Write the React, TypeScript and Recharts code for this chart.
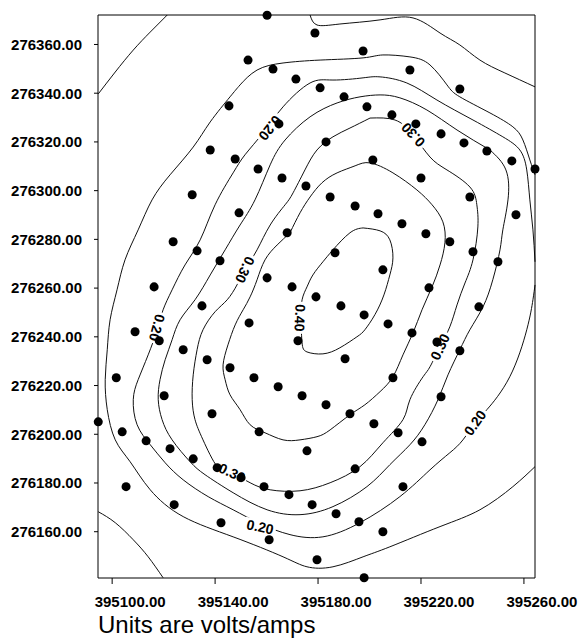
import React from 'react';
import { ComposedChart, Line, Scatter, XAxis, YAxis } from 'recharts';

type Pt = [number, number];

// axis ticks (easting / northing)
const eastTicks = [395100, 395120, 395140, 395160, 395180, 395200, 395220, 395240, 395260];
const northTicks = [276160, 276180, 276200, 276220, 276240, 276260, 276280, 276300, 276320, 276340, 276360];
const eastDomain = [395094.5, 395264.3];
const northDomain = [276141.0, 276372.1];

// measurement stations
const stations: Pt[] = [
  [395160.2, 276372.0],
  [395152.8, 276353.6], [395162.5, 276349.9], [395171.4, 276345.8], [395180.8, 276342.2], [395190.1, 276338.5],
  [395199.0, 276334.4], [395208.7, 276331.1], [395218.0, 276327.4], [395227.8, 276323.3], [395236.7, 276319.6],
  [395245.6, 276316.3], [395255.3, 276312.2], [395264.3, 276308.9],
  [395178.8, 276364.7], [395197.5, 276357.3], [395215.7, 276349.5], [395235.1, 276341.7],
  [395145.4, 276334.8], [395164.8, 276327.4], [395183.1, 276320.0], [395201.3, 276312.6], [395220.0, 276305.2],
  [395239.0, 276297.4], [395256.9, 276290.1],
  [395138.1, 276316.7], [395147.8, 276313.0], [395156.7, 276308.9], [395166.0, 276305.2], [395175.3, 276301.9],
  [395184.7, 276297.4], [395194.4, 276293.7], [395203.3, 276290.5], [395212.6, 276286.4], [395221.9, 276282.3],
  [395231.2, 276279.0], [395240.2, 276274.9], [395249.9, 276270.8],
  [395131.1, 276298.3], [395149.3, 276290.9], [395168.0, 276282.7], [395186.6, 276274.5], [395205.2, 276267.5],
  [395223.1, 276260.1], [395242.5, 276252.3],
  [395123.7, 276279.0], [395133.0, 276275.3], [395141.9, 276271.2], [395160.2, 276264.2], [395169.9, 276260.5],
  [395179.2, 276256.4], [395188.9, 276252.7], [395197.9, 276249.0], [395207.2, 276245.3], [395216.5, 276241.6],
  [395226.2, 276237.9], [395235.1, 276234.3],
  [395116.3, 276260.5], [395134.9, 276252.7], [395153.2, 276245.7], [395172.2, 276238.4], [395190.5, 276231.0],
  [395209.1, 276223.2], [395227.8, 276215.4],
  [395108.9, 276242.1], [395118.3, 276238.4], [395127.6, 276234.7], [395136.9, 276230.6], [395145.8, 276227.3],
  [395155.1, 276223.2], [395164.5, 276219.5], [395173.8, 276215.8], [395183.1, 276212.1], [395192.4, 276208.4],
  [395201.7, 276204.3], [395211.1, 276200.6], [395220.4, 276196.9],
  [395101.6, 276223.2], [395120.2, 276215.8], [395138.8, 276208.4], [395157.1, 276201.0], [395175.7, 276193.2],
  [395194.4, 276185.8], [395213.0, 276178.5],
  [395094.6, 276205.1], [395103.9, 276201.0], [395113.2, 276197.3], [395122.5, 276194.1], [395131.5, 276189.9],
  [395140.8, 276186.3], [395150.1, 276182.2], [395159.0, 276178.5], [395168.7, 276175.2], [395177.7, 276171.1],
  [395187.0, 276167.4], [395195.9, 276164.1], [395205.2, 276160.0],
  [395105.4, 276178.5], [395124.1, 276171.1], [395142.3, 276163.7], [395161.0, 276156.7], [395179.6, 276148.5],
  [395197.9, 276141.1],
];

// contour lines, volts/amps
const c010TopLeft: Pt[] = [
  [395094.6, 276339.7], [395101.2, 276348.7], [395108.2, 276357.7], [395114.8, 276365.1], [395121.4, 276372.1],
];
const c010Top: Pt[] = [
  [395176.9, 276372.1], [395179.6, 276368.0], [395188.5, 276368.4], [395204.1, 276370.1], [395216.9, 276370.9],
  [395227.4, 276364.7], [395235.1, 276359.8], [395242.9, 276353.6], [395252.6, 276348.3], [395264.3, 276342.6],
];
const c010BottomLeft: Pt[] = [
  [395094.6, 276168.2], [395101.2, 276163.7], [395108.2, 276156.7], [395114.0, 276149.7], [395119.8, 276141.1],
];
const c015: Pt[] = [
  [395264.3, 276306.5], [395262.3, 276312.6], [395259.6, 276320.8], [395255.7, 276326.2], [395246.8, 276331.9],
  [395235.1, 276338.5], [395230.1, 276343.4], [395223.5, 276351.6], [395215.7, 276354.9], [395205.2, 276355.7],
  [395197.5, 276354.5], [395180.8, 276353.6], [395166.4, 276352.4], [395156.3, 276349.5], [395149.7, 276343.4],
  [395145.8, 276338.5], [395138.1, 276328.2], [395131.5, 276317.9], [395122.5, 276306.5], [395115.5, 276296.2],
  [395110.1, 276283.9], [395105.0, 276271.6], [395101.9, 276259.3], [395099.2, 276247.0], [395098.1, 276234.7],
  [395097.3, 276222.4], [395098.1, 276210.1], [395101.2, 276197.7], [395107.0, 276188.7], [395114.8, 276177.2],
  [395127.6, 276166.2], [395147.0, 276157.9], [395166.4, 276149.7], [395175.7, 276145.6], [395185.8, 276145.6],
  [395197.5, 276149.7], [395207.9, 276153.8], [395227.4, 276162.1], [395242.9, 276169.0], [395255.7, 276178.5],
  [395264.3, 276186.7],
];
const c020: Pt[] = [
  [395264.3, 276270.8], [395263.5, 276283.9], [395262.3, 276296.2], [395261.1, 276308.5], [395258.4, 276316.7],
  [395251.8, 276322.1], [395240.2, 276329.0], [395226.2, 276337.2], [395214.5, 276344.2], [395204.1, 276346.7],
  [395197.5, 276346.3], [395185.8, 276345.4], [395176.9, 276344.2], [395166.4, 276334.4], [395158.6, 276323.7],
  [395151.6, 276314.7], [395147.0, 276307.3], [395140.0, 276294.2], [395134.2, 276279.8], [395128.3, 276269.5],
  [395123.3, 276259.3], [395119.8, 276251.1], [395117.5, 276242.9], [395114.0, 276232.6], [395110.1, 276222.4],
  [395108.2, 276214.2], [395109.7, 276203.9], [395114.8, 276195.7], [395120.6, 276188.3], [395127.6, 276181.3],
  [395137.3, 276174.4], [395147.0, 276169.0], [395157.5, 276163.3], [395169.1, 276158.8], [395181.9, 276157.9],
  [395196.3, 276163.7], [395211.8, 276174.4], [395223.5, 276185.4], [395231.2, 276192.4], [395236.3, 276197.7],
  [395241.0, 276204.7], [395245.6, 276210.1], [395254.5, 276223.6], [395261.1, 276242.9], [395263.5, 276255.2],
  [395264.3, 276261.3],
];
const c025: Pt[] = [
  [395246.8, 276316.7], [395253.0, 276308.5], [395253.8, 276296.2], [395251.8, 276283.9], [395250.7, 276275.7],
  [395247.9, 276263.4], [395244.1, 276252.3], [395239.0, 276242.9], [395235.1, 276234.7], [395230.5, 276224.4],
  [395226.6, 276214.2], [395221.5, 276203.9], [395215.7, 276195.7], [395207.9, 276187.5], [395199.0, 276178.5],
  [395185.8, 276170.3], [395173.0, 276167.0], [395160.2, 276169.0], [395147.0, 276176.0], [395136.1, 276183.4],
  [395130.3, 276188.7], [395123.3, 276197.7], [395119.4, 276206.0], [395117.9, 276214.2], [395118.6, 276222.4],
  [395120.6, 276230.6], [395123.3, 276238.8], [395126.4, 276247.0], [395132.2, 276255.2], [395138.1, 276265.4],
  [395143.9, 276275.7], [395149.7, 276285.9], [395155.5, 276296.2], [395161.4, 276310.6], [395167.2, 276320.8],
  [395176.9, 276330.3], [395187.4, 276336.0], [395196.3, 276338.5], [395204.1, 276339.3], [395211.8, 276338.1],
  [395222.3, 276333.1], [395234.0, 276324.9], [395246.8, 276316.7],
];
const c030: Pt[] = [
  [395200.2, 276329.8], [395209.9, 276329.0], [395216.9, 276322.9], [395223.5, 276313.8], [395230.1, 276308.5],
  [395239.0, 276301.5], [395241.7, 276294.2], [395242.1, 276285.1], [395240.2, 276271.6], [395237.1, 276262.1],
  [395234.0, 276253.1], [395231.2, 276244.1], [395227.4, 276235.9], [395223.5, 276227.7], [395220.8, 276223.6],
  [395215.7, 276214.2], [395213.0, 276206.0], [395205.2, 276196.5], [395196.3, 276186.7], [395184.7, 276180.1],
  [395173.0, 276176.8], [395161.4, 276177.2], [395153.6, 276180.1], [395145.8, 276184.2], [395140.8, 276186.7],
  [395135.3, 276197.7], [395132.2, 276206.0], [395131.1, 276214.2], [395131.5, 276224.4], [395133.0, 276234.7],
  [395135.3, 276242.9], [395140.0, 276250.3], [395144.7, 276255.2], [395148.5, 276261.3], [395151.6, 276267.5],
  [395156.3, 276275.7], [395161.4, 276285.9], [395167.2, 276294.2], [395170.3, 276299.1], [395174.9, 276308.5],
  [395179.6, 276316.7], [395185.8, 276322.1], [395192.4, 276325.7], [395200.2, 276329.8],
];
const c035: Pt[] = [
  [395169.1, 276282.7], [395173.0, 276290.9], [395176.9, 276297.4], [395181.5, 276303.2], [395187.4, 276307.3],
  [395194.4, 276310.2], [395200.2, 276311.4], [395209.1, 276307.3], [395218.4, 276300.3], [395224.3, 276294.2],
  [395228.5, 276287.2], [395229.3, 276278.6], [395227.4, 276269.5], [395224.3, 276260.5], [395220.4, 276251.1],
  [395216.9, 276241.6], [395213.0, 276232.6], [395209.1, 276223.6], [395204.1, 276217.5], [395198.2, 276212.1],
  [395192.4, 276208.0], [395184.7, 276201.8], [395179.6, 276199.0], [395173.0, 276197.7], [395166.4, 276197.7],
  [395159.4, 276200.6], [395153.6, 276203.9], [395149.7, 276210.1], [395145.8, 276216.2], [395143.9, 276222.4],
  [395143.1, 276228.5], [395145.0, 276236.7], [395147.8, 276244.9], [395150.9, 276251.1], [395153.6, 276256.4],
  [395156.3, 276263.4], [395159.4, 276271.6], [395164.1, 276277.7], [395169.1, 276282.7],
];
const c040: Pt[] = [
  [395197.5, 276284.7], [395204.1, 276283.5], [395207.9, 276279.8], [395209.1, 276272.4], [395207.9, 276265.4],
  [395205.6, 276257.2], [395202.1, 276249.1], [395198.2, 276242.9], [395195.1, 276240.0], [395188.5, 276235.5],
  [395181.9, 276233.0], [395175.7, 276233.8], [395173.8, 276237.5], [395173.4, 276247.0], [395173.8, 276255.2],
  [395175.7, 276260.5], [395178.0, 276265.4], [395181.9, 276270.8], [395185.8, 276275.7], [395192.4, 276282.7],
  [395197.5, 276284.7],
];

const contourLines: Pt[][] = [c010TopLeft, c010Top, c010BottomLeft, c015, c020, c025, c030, c035, c040];

const contourLabels = [
  { x: 395161.4, y: 276325.7, text: '0.20', angle: 128 },
  { x: 395216.9, y: 276322.9, text: '0.30', angle: -133 },
  { x: 395151.6, y: 276267.5, text: '0.30', angle: 115 },
  { x: 395117.5, y: 276243.7, text: '0.20', angle: 105 },
  { x: 395173.0, y: 276247.8, text: '0.40', angle: 92 },
  { x: 395227.4, y: 276235.9, text: '0.30', angle: -65 },
  { x: 395241.0, y: 276204.7, text: '0.20', angle: -55 },
  { x: 395146.6, y: 276184.2, text: '0.30', angle: 25 },
  { x: 395157.5, y: 276162.0, text: '0.20', angle: 12 },
];

const FONT = '"Liberation Sans", Arial, sans-serif';

const toXY = (pts: Pt[]) => pts.map(([x, y]) => ({ x, y }));

const EastTick = (props: any) => {
  const { x, y, payload } = props;
  if ((payload.value - 395100) % 40 !== 0) return <g />;
  return (
    <text x={x + 18} y={y} dy="0.71em" textAnchor="middle" fill="#000" fontSize={15} fontWeight={700} fontFamily={FONT}>
      {payload.value.toFixed(2)}
    </text>
  );
};

const ContourLabel = (props: any) => {
  const { cx, cy, payload } = props;
  return (
    <g transform={`translate(${cx},${cy}) rotate(${payload.angle})`}>
      <rect x={-16} y={-7} width={32} height={14} fill="#fff" />
      <text x={0} y={0} dy="0.36em" textAnchor="middle" fontSize={14} fontWeight={700} fontFamily={FONT} fill="#000">
        {payload.text}
      </text>
    </g>
  );
};

export default function App() {
  return (
    <div style={{ position: 'absolute', left: 0, top: 0, width: 581, height: 641, background: '#fff' }}>
      <ComposedChart width={581} height={641} margin={{ top: 9, right: 40, bottom: 23, left: 0 }}>
        <XAxis
          type="number"
          dataKey="x"
          domain={eastDomain}
          ticks={eastTicks}
          height={40}
          tickSize={6}
          tickMargin={12}
          stroke="#000"
          tick={<EastTick />}
        />
        <XAxis
          xAxisId="top"
          orientation="top"
          type="number"
          dataKey="x"
          domain={eastDomain}
          ticks={eastTicks}
          height={6}
          tickSize={6}
          stroke="#000"
          tick={() => <g />}
        />
        <YAxis
          type="number"
          dataKey="y"
          domain={northDomain}
          ticks={northTicks}
          width={98}
          tickSize={4}
          tickMargin={12}
          stroke="#000"
          tick={{ fill: '#000', fontSize: 15, fontWeight: 700, fontFamily: FONT }}
          tickFormatter={(v: number) => v.toFixed(2)}
        />
        <YAxis
          yAxisId="right"
          orientation="right"
          type="number"
          dataKey="y"
          domain={northDomain}
          ticks={northTicks}
          width={6}
          tickSize={6}
          stroke="#000"
          tick={() => <g />}
        />
        {contourLines.map((pts, i) => (
          <Line
            key={`c${i}`}
            data={toXY(pts)}
            dataKey="y"
            type="natural"
            stroke="#111"
            strokeWidth={1}
            dot={false}
            activeDot={false}
            isAnimationActive={false}
          />
        ))}
        <Scatter data={contourLabels} shape={<ContourLabel />} isAnimationActive={false} />
        <Scatter data={toXY(stations)} fill="#000" isAnimationActive={false} />
      </ComposedChart>
      <div
        style={{
          position: 'absolute',
          left: 98,
          top: 613,
          fontFamily: FONT,
          fontSize: 24,
          lineHeight: '24px',
          color: '#000',
          whiteSpace: 'nowrap',
        }}
      >
        Units are volts/amps
      </div>
    </div>
  );
}
